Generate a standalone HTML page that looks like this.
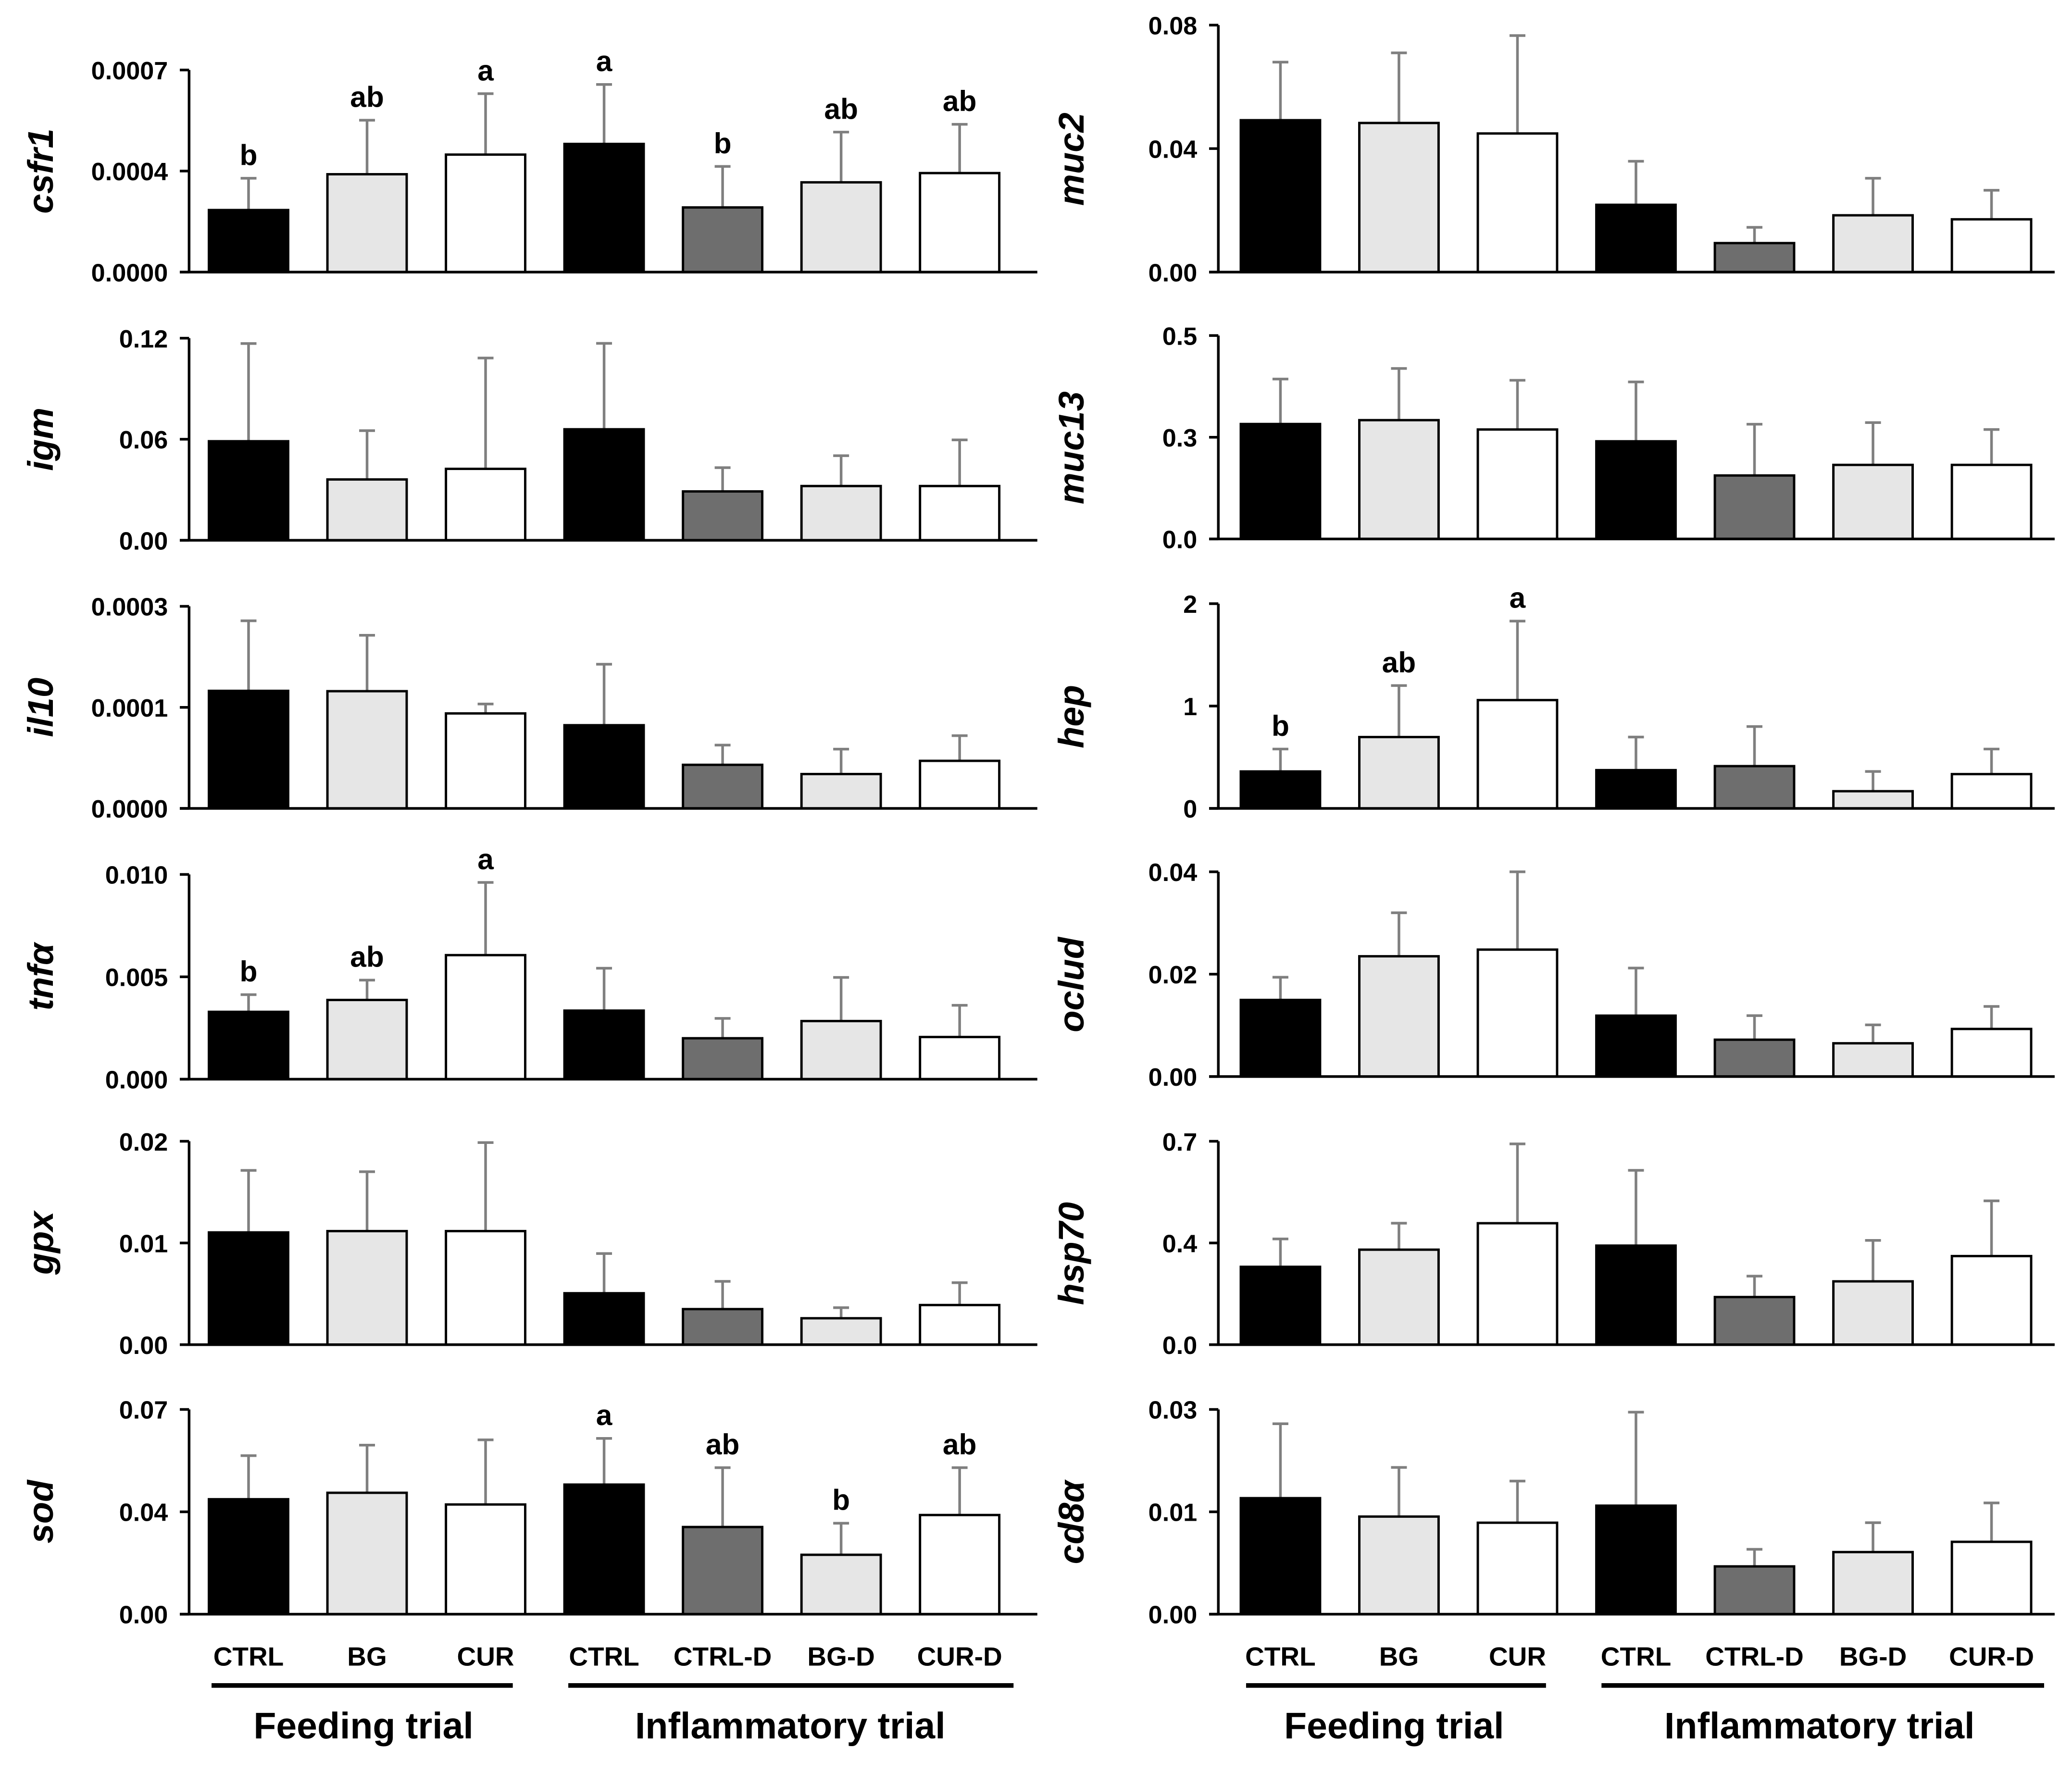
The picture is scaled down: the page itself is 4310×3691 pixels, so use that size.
<!DOCTYPE html>
<html><head><meta charset="utf-8"><style>
html,body{margin:0;padding:0;background:#fff}
svg{display:block}
text{font-family:"Liberation Sans",Arial,sans-serif;font-weight:bold}
</style></head><body>
<svg id="chart" xmlns="http://www.w3.org/2000/svg" width="4310" height="3691" viewBox="0 0 1568 1343"></svg>
<script>
const categories = ["CTRL","BG","CUR","CTRL","CTRL-D","BG-D","CUR-D"];
const genes = ["csfr1","igm","il10","tnfα","gpx","sod","muc2","muc13","hep","oclud","hsp70","cd8α"];
const axisMax = [0.0007,0.12,0.0003,0.010,0.02,0.07,0.08,0.5,2,0.04,0.7,0.03];
const tickLabels = [["0.0000","0.0004","0.0007"],["0.00","0.06","0.12"],["0.0000","0.0001","0.0003"],["0.000","0.005","0.010"],["0.00","0.01","0.02"],["0.00","0.04","0.07"],["0.00","0.04","0.08"],["0.0","0.3","0.5"],["0","1","2"],["0.00","0.02","0.04"],["0.0","0.4","0.7"],["0.00","0.01","0.03"]];
const means = [
[0.000215,0.000339,0.000407,0.000444,0.000224,0.000311,0.000343],
[0.0588,0.0361,0.0424,0.0659,0.029,0.0322,0.0322],
[0.0001745,0.000174,0.000141,0.0001235,0.0000647,0.000051,0.0000706],
[0.00329,0.00387,0.00606,0.00335,0.002,0.00284,0.00206],
[0.01104,0.01117,0.01117,0.00506,0.0035,0.0026,0.0039],
[0.0393,0.0415,0.0375,0.0443,0.0298,0.0203,0.0339],
[0.0492,0.0483,0.0449,0.0218,0.0094,0.0184,0.0171],
[0.2825,0.292,0.269,0.240,0.156,0.182,0.182],
[0.361,0.697,1.058,0.374,0.413,0.168,0.335],
[0.01497,0.0235,0.0248,0.0119,0.0072,0.0065,0.0093],
[0.268,0.327,0.418,0.341,0.164,0.218,0.305],
[0.0170,0.0143,0.0134,0.0159,0.007,0.0091,0.0106]];
const errTops = [
[0.000325,0.000526,0.000618,0.000650,0.000366,0.000485,0.000512],
[0.1168,0.0651,0.1082,0.1169,0.0431,0.0502,0.0596],
[0.0002785,0.000257,0.000155,0.000214,0.000094,0.000088,0.000108],
[0.00413,0.00484,0.00961,0.00542,0.00297,0.00497,0.00361],
[0.01714,0.01701,0.01987,0.00896,0.00623,0.00364,0.0061],
[0.0542,0.0578,0.0596,0.0601,0.0501,0.0311,0.0501],
[0.068,0.071,0.0766,0.0359,0.0145,0.0304,0.0265],
[0.393,0.419,0.390,0.386,0.282,0.286,0.269],
[0.58,1.2,1.83,0.697,0.8,0.361,0.58],
[0.0194,0.032,0.040,0.0212,0.0119,0.0101,0.0137],
[0.364,0.418,0.691,0.6,0.236,0.359,0.495],
[0.0279,0.0215,0.0195,0.0296,0.0095,0.0134,0.0163]];
const letters = [
["b","ab","a","a","b","ab","ab"],[],[],["b","ab","a"],[],["","","","a","ab","b","ab"],
[],[],["b","ab","a"],[],[],[]];
const colors = ["#000","#e6e6e6","#fff","#000","#6e6e6e","#e6e6e6","#fff"];
const NS="http://www.w3.org/2000/svg";
const svg=document.getElementById('chart');
function mk(tag,attrs,parent){const e=document.createElementNS(NS,tag);for(const k in attrs)e.setAttribute(k,attrs[k]);(parent||svg).appendChild(e);return e;}
const rowsL=[[53,206],[256,409],[459,612],[662,817],[864,1018],[1067,1222]];
const rowsR=[[19,206],[254,408],[457,612],[660,815],[864,1018],[1067,1222]];
for(let g=0;g<12;g++){
  const right=g>=6, r=g%6;
  const [yt,yb]=right?rowsR[r]:rowsL[r];
  const ax=right?922:143, xEnd=right?1555:785;
  const c0=right?969:188, step=89.7;
  const y=v=>yb-(v/axisMax[g])*(yb-yt);
  const grp=mk('g',{});
  
  
  for(let i=0;i<7;i++){
    const cx=c0+i*step;
    const et=mk('line',{x1:cx,x2:cx,y1:y(means[g][i]),y2:y(errTops[g][i]),stroke:'#7f7f7f','stroke-width':2},grp);
    
    
    const cap=mk('line',{x1:cx-6,x2:cx+6,y1:y(errTops[g][i]),y2:y(errTops[g][i]),stroke:'#7f7f7f','stroke-width':2},grp);
    
    
    const b=mk('rect',{x:cx-30,y:y(means[g][i]),width:60,height:yb-y(means[g][i]),fill:colors[i],stroke:'#000','stroke-width':1.8},grp);
    
    
    const L=letters[g][i];
    if(L){const t=mk('text',{x:cx,y:y(errTops[g][i])-10,'text-anchor':'middle','font-size':22},grp);t.textContent=L;
      
      }
  }
  mk('line',{x1:ax,x2:ax,y1:yt,y2:yb,stroke:'#000','stroke-width':2},grp);
  mk('line',{x1:ax-7,x2:xEnd,y1:yb,y2:yb,stroke:'#000','stroke-width':2},grp);
  [0,0.5,1].forEach((f,k)=>{
    const ty=yb-f*(yb-yt);
    mk('line',{x1:ax-7,x2:ax,y1:ty,y2:ty,stroke:'#000','stroke-width':2},grp);
    const t=mk('text',{x:ax-16,y:ty+7,'text-anchor':'end','font-size':19},grp);t.textContent=tickLabels[g][k];
    
    
  });
  const lx=right?820:40, ly=(yt+yb)/2+ (right?8:0);
  const gl=mk('text',{x:lx,y:ly,'text-anchor':'middle','font-size':27,'font-style':'italic',transform:`rotate(-90 ${lx} ${ly})`},grp);
  gl.textContent=genes[g];
  
  
}
[[188,[[160,388,275],[430,767,598]]],[969,[[943,1170,1055],[1212,1547,1377]]]].forEach(([c0,groups])=>{
  for(let i=0;i<7;i++){const t=mk('text',{x:c0+i*89.7,y:1261,'text-anchor':'middle','font-size':20});t.textContent=categories[i];
    
    }
  groups.forEach(([a,b,c],k)=>{
    mk('line',{x1:a,x2:b,y1:1276,y2:1276,stroke:'#000','stroke-width':3.5});
    const t=mk('text',{x:c,y:1316,'text-anchor':'middle','font-size':28});t.textContent=k?'Inflammatory trial':'Feeding trial';
    
    
  });
});
</script>
</body></html>
